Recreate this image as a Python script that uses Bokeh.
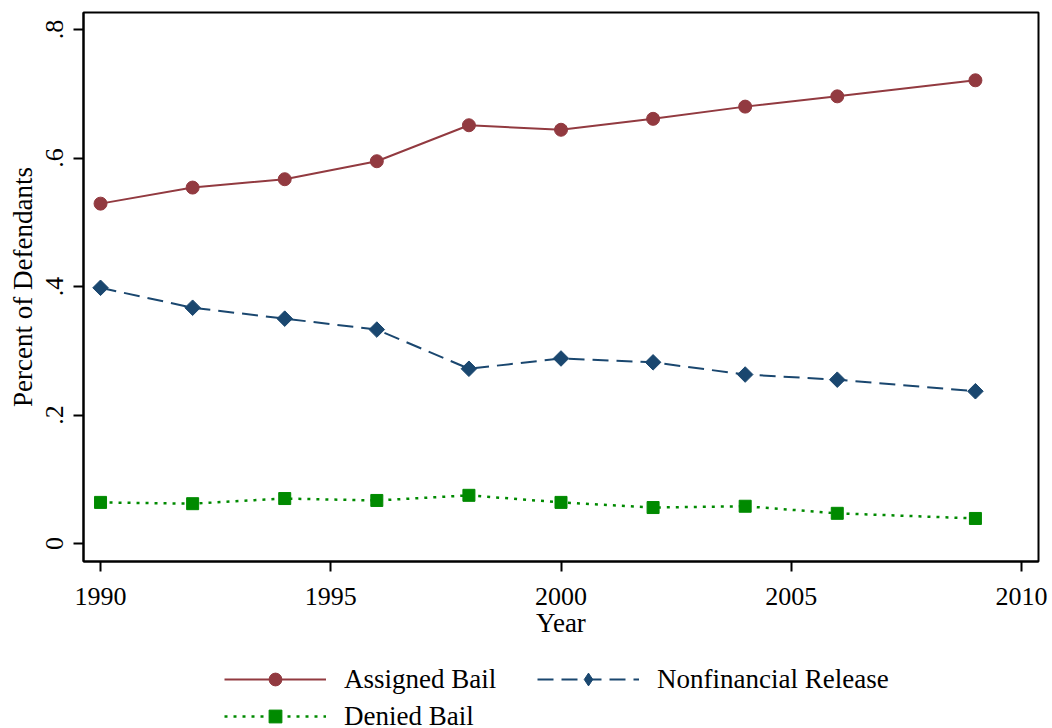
import math
from bokeh.plotting import figure
from bokeh.layouts import column
from bokeh.models import Legend, LegendItem, Range1d, FixedTicker
from bokeh.embed import file_html
from bokeh.resources import INLINE

years = [1990, 1992, 1994, 1996, 1998, 2000, 2002, 2004, 2006, 2009]
assigned_bail = [0.529, 0.554, 0.567, 0.595, 0.651, 0.644, 0.661, 0.680, 0.696, 0.721]
nonfinancial_release = [0.398, 0.367, 0.350, 0.333, 0.272, 0.288, 0.282, 0.263, 0.255, 0.237]
denied_bail = [0.064, 0.062, 0.070, 0.067, 0.075, 0.064, 0.056, 0.058, 0.047, 0.039]
series_names = ["Assigned Bail", "Nonfinancial Release", "Denied Bail"]

x_ticks = [1990, 1995, 2000, 2005, 2010]
y_ticks = [0, 0.2, 0.4, 0.6, 0.8]
y_tick_labels = ["0", ".2", ".4", ".6", ".8"]

FONT = "Liberation Serif"
RED = "#923A40"
BLUE = "#1A476F"
GREEN = "#008A00"


def draw_series(fig, legend_strip=False):
    r1 = fig.line(years, assigned_bail, line_color=RED, line_width=2)
    m1 = fig.scatter(years, assigned_bail, marker="circle", size=13, fill_color=RED, line_color=RED)
    r2 = fig.line(years, nonfinancial_release, line_color=BLUE, line_width=2, line_dash="16 8")
    if legend_strip:
        m2 = fig.scatter(years, nonfinancial_release, marker="diamond", size=15,
                         fill_color=BLUE, line_color=BLUE)
    else:
        m2 = fig.scatter(years, nonfinancial_release, marker="square", angle=math.pi / 4, size=11,
                         fill_color=BLUE, line_color=BLUE)
    r3 = fig.line(years, denied_bail, line_color=GREEN, line_width=2.5, line_dash="3 6")
    m3 = fig.scatter(years, denied_bail, marker="square", size=12, fill_color=GREEN, line_color=GREEN)
    return [[r1, m1], [r2, m2], [r3, m3]]


p = figure(width=1048, height=650, output_backend="svg", toolbar_location=None,
           x_range=Range1d(1989.63, 2010.37), y_range=Range1d(-0.028, 0.8265),
           min_border_left=83, min_border_right=10, min_border_top=12, min_border_bottom=89)
p.background_fill_color = "white"
p.border_fill_color = "white"
p.outline_line_color = "black"
p.outline_line_width = 2
p.xgrid.visible = False
p.ygrid.visible = False
draw_series(p)

for ax in (p.xaxis[0], p.yaxis[0]):
    ax.axis_line_color = "black"
    ax.axis_line_width = 2
    ax.major_tick_line_color = "black"
    ax.major_tick_line_width = 2
    ax.major_tick_out = 10
    ax.major_tick_in = 0
    ax.minor_tick_line_color = None
    ax.major_label_text_font = FONT
    ax.major_label_text_font_size = "26px"
    ax.major_label_text_color = "black"
    ax.axis_label_text_font = FONT
    ax.axis_label_text_font_size = "27px"
    ax.axis_label_text_font_style = "normal"
    ax.axis_label_text_color = "black"

p.xaxis.ticker = FixedTicker(ticks=x_ticks)
p.xaxis.axis_label = "Year"
p.xaxis.major_label_standoff = 16
p.xaxis.axis_label_standoff = 0

p.yaxis.ticker = FixedTicker(ticks=y_ticks)
p.yaxis.major_label_overrides = {t: l for t, l in zip(y_ticks, y_tick_labels)}
p.yaxis.major_label_orientation = "parallel"
p.yaxis.axis_label = "Percent of Defendants"
p.yaxis.major_label_standoff = 10
p.yaxis.axis_label_standoff = 6

# legend strip below the chart (its series lie outside its visible ranges)
q = figure(width=1048, height=78, output_backend="svg", toolbar_location=None,
           x_range=Range1d(0, 1), y_range=Range1d(5, 6), x_axis_type=None, y_axis_type=None,
           min_border_left=0, min_border_right=0, min_border_top=0, min_border_bottom=0)
q.background_fill_color = "white"
q.border_fill_color = "white"
q.outline_line_color = None
q.xgrid.visible = False
q.ygrid.visible = False
legend_renderers = draw_series(q, legend_strip=True)

legend = Legend(items=[LegendItem(label=n, renderers=r) for n, r in zip(series_names, legend_renderers)],
                orientation="horizontal", ncols=2, location=(141, -4))
legend.glyph_width = 102
legend.glyph_height = 32
legend.label_standoff = 18
legend.label_width = 188
legend.label_height = 31
legend.spacing = 5
legend.label_text_font = FONT
legend.label_text_font_size = "27px"
legend.label_text_color = "black"
legend.border_line_color = None
legend.background_fill_alpha = 0
legend.padding = 0
legend.margin = 0
q.add_layout(legend, "center")

layout = column(p, q, spacing=0)
open("out.html", "w").write(file_html(layout, INLINE))
